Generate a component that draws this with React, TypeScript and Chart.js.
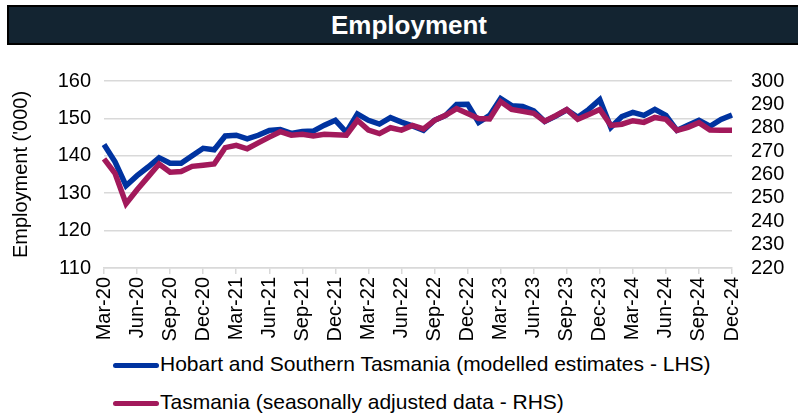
import React, { useEffect, useRef } from "react";
import { Chart, registerables } from "chart.js";

Chart.register(...registerables);

const months = [
  "Mar-20", "Apr-20", "May-20", "Jun-20", "Jul-20", "Aug-20", "Sep-20", "Oct-20", "Nov-20", "Dec-20",
  "Jan-21", "Feb-21", "Mar-21", "Apr-21", "May-21", "Jun-21", "Jul-21", "Aug-21", "Sep-21", "Oct-21", "Nov-21", "Dec-21",
  "Jan-22", "Feb-22", "Mar-22", "Apr-22", "May-22", "Jun-22", "Jul-22", "Aug-22", "Sep-22", "Oct-22", "Nov-22", "Dec-22",
  "Jan-23", "Feb-23", "Mar-23", "Apr-23", "May-23", "Jun-23", "Jul-23", "Aug-23", "Sep-23", "Oct-23", "Nov-23", "Dec-23",
  "Jan-24", "Feb-24", "Mar-24", "Apr-24", "May-24", "Jun-24", "Jul-24", "Aug-24", "Sep-24", "Oct-24", "Nov-24", "Dec-24",
];

// Hobart and Southern Tasmania (modelled estimates, '000) - LHS
const hobart = [
  143.0, 138.4, 132.0, 134.7, 137.0, 139.5, 138.0, 138.0, 140.0, 142.0,
  141.6, 145.3, 145.5, 144.5, 145.5, 146.8, 147.0, 146.0, 146.5, 146.6, 148.2, 149.5,
  146.3, 151.2, 149.5, 148.5, 150.2, 149.0, 148.0, 146.8, 149.5, 150.8, 153.7, 153.8,
  148.9, 150.8, 155.3, 153.4, 153.2, 152.0, 149.2, 150.6, 152.3, 150.3, 152.4, 155.0,
  147.6, 150.5, 151.6, 150.8, 152.4, 150.8, 146.8, 148.2, 149.5, 147.9, 149.7, 150.9,
];

// Tasmania (seasonally adjusted, '000) - RHS
const tasmania = [
  266.7, 260.5, 247.5, 253.5, 259.0, 264.5, 261.0, 261.3, 263.5, 264.0,
  264.5, 271.5, 272.5, 271.0, 273.5, 276.0, 278.3, 276.8, 277.2, 276.5, 277.2, 277.0,
  276.8, 283.2, 279.0, 277.5, 280.0, 279.0, 281.0, 279.5, 283.2, 285.3, 288.2, 286.1,
  284.0, 283.8, 291.2, 287.8, 287.0, 286.2, 282.8, 285.2, 287.8, 283.6, 285.7, 287.8,
  281.0, 281.5, 283.0, 282.3, 284.4, 283.6, 278.9, 280.2, 282.2, 279.0, 278.9, 278.9,
];

const leftTicks = { min: 110, max: 160, step: 10 };
const rightTicks = { min: 220, max: 300, step: 10 };

const title = "Employment";
const yTitle = "Employment ('000)";
const hobartLabel = "Hobart and Southern Tasmania (modelled estimates - LHS)";
const tasLabel = "Tasmania (seasonally adjusted data - RHS)";

const BLUE = "#0033a0";
const RED = "#a2195b";
const GRID = "#d9d9d9";
const FONT = "'Liberation Sans', Arial, sans-serif";

export default function App() {
  const canvasRef = useRef<HTMLCanvasElement | null>(null);

  useEffect(() => {
    const canvas = canvasRef.current;
    if (!canvas) return;
    const tickFont = { family: FONT, size: 20 };
    const chart = new Chart(canvas, {
      type: "line",
      data: {
        labels: months,
        datasets: [
          {
            label: tasLabel,
            data: tasmania,
            yAxisID: "y1",
            borderColor: RED,
            backgroundColor: RED,
            borderWidth: 5.5,
            pointRadius: 0,
            tension: 0,
            order: 0,
          },
          {
            label: hobartLabel,
            data: hobart,
            yAxisID: "y",
            borderColor: BLUE,
            backgroundColor: BLUE,
            borderWidth: 5.5,
            pointRadius: 0,
            tension: 0,
            order: 1,
          },
        ],
      },
      options: {
        responsive: false,
        animation: false,
        layout: { padding: { top: 28, left: 0, right: 0, bottom: 0 } },
        plugins: {
          legend: { display: false },
          tooltip: { enabled: false },
          title: { display: false },
        },
        scales: {
          x: {
            offset: false,
            grid: {
              drawOnChartArea: false,
              drawTicks: true,
              tickLength: 6,
              lineWidth: 1.5,
              color: (ctx: any) => (ctx.index % 3 === 0 ? GRID : "rgba(0,0,0,0)"),
            },
            border: { display: true, color: GRID, width: 1.5 },
            ticks: {
              autoSkip: false,
              maxRotation: 90,
              minRotation: 90,
              padding: 3,
              color: "#000",
              font: tickFont,
              callback: (_v: any, i: number) => (i % 3 === 0 ? months[i] : ""),
            },
            afterFit: (s: any) => {
              s.height = 82;
            },
          },
          y: {
            position: "left",
            min: leftTicks.min,
            max: leftTicks.max,
            ticks: { stepSize: leftTicks.step, autoSkip: false, color: "#000", font: tickFont, padding: 13 },
            grid: { color: GRID, lineWidth: 1.5, drawTicks: false },
            border: { display: false },
            title: {
              display: true,
              text: yTitle,
              color: "#000",
              font: { family: FONT, size: 20 },
              padding: { top: 9, bottom: 0 },
            },
            afterFit: (s: any) => {
              s.width = 104;
            },
          },
          y1: {
            position: "right",
            min: rightTicks.min,
            max: rightTicks.max,
            ticks: { stepSize: rightTicks.step, autoSkip: false, color: "#000", font: tickFont, padding: 19 },
            grid: { drawOnChartArea: false, drawTicks: false },
            border: { display: false },
            afterFit: (s: any) => {
              s.width = 66;
            },
          },
        },
      },
    });
    return () => chart.destroy();
  }, []);

  const legendText: React.CSSProperties = {
    position: "absolute",
    left: 160,
    fontFamily: FONT,
    fontSize: 21,
    color: "#000",
    lineHeight: "24px",
    whiteSpace: "nowrap",
  };
  const legendLine: React.CSSProperties = {
    position: "absolute",
    left: 113,
    width: 46,
    height: 5,
    borderRadius: 3,
  };

  return (
    <div style={{ position: "fixed", left: 0, top: 0, width: 798, height: 417, background: "#fff", overflow: "hidden" }}>
      <div
        style={{
          position: "absolute",
          left: 7,
          top: 5,
          width: 800,
          height: 40,
          boxSizing: "border-box",
          background: "#132431",
          border: "2px solid #000",
          display: "flex",
          alignItems: "center",
          justifyContent: "center",
          paddingRight: 2,
        }}
      >
        <span style={{ color: "#fff", fontFamily: FONT, fontWeight: "bold", fontSize: 26, transform: "translateX(3px)" }}>
          {title}
        </span>
      </div>
      <canvas ref={canvasRef} width={798} height={300} style={{ position: "absolute", left: 0, top: 50, width: 798, height: 300 }} />
      <div style={{ ...legendLine, top: 363, background: BLUE }} />
      <div style={{ ...legendText, top: 352 }}>{hobartLabel}</div>
      <div style={{ ...legendLine, top: 401, background: RED }} />
      <div style={{ ...legendText, top: 390 }}>{tasLabel}</div>
    </div>
  );
}
